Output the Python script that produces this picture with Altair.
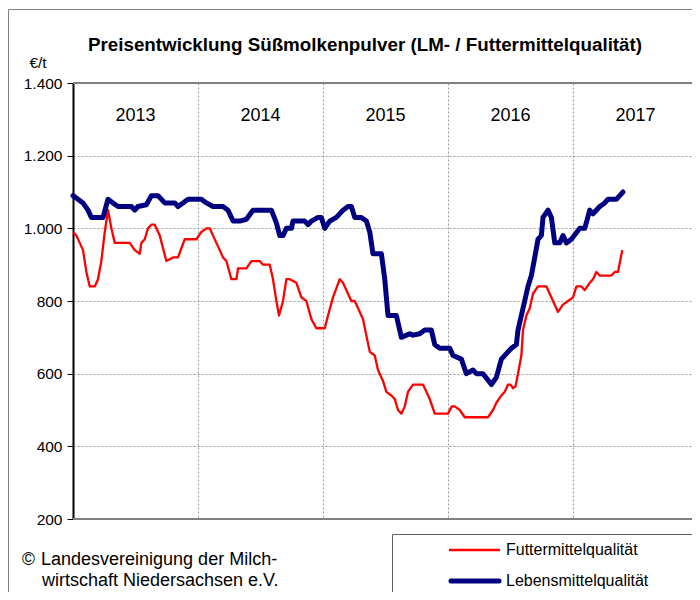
import altair as alt
import pandas as pd

TITLE = "Preisentwicklung Süßmolkenpulver (LM- / Futtermittelqualität)"
UNIT = "€/t"
SERIES = ["Futtermittelqualität", "Lebensmittelqualität"]
YEAR_LABELS = [2013, 2014, 2015, 2016, 2017]
Y_TICKS = [200, 400, 600, 800, 1000, 1200, 1400]
X_GRID = [2013, 2014, 2015, 2016, 2017]
COPYRIGHT = ["©", "Landesvereinigung der Milch-", "wirtschaft Niedersachsen e.V."]

# Lebensmittelqualität (decimal year, €/t)
lm_year = [2013.000, 2013.040, 2013.080, 2013.120, 2013.147, 2013.240, 2013.280, 2013.320, 2013.360, 2013.467,
           2013.494, 2013.520, 2013.587, 2013.627, 2013.680, 2013.734, 2013.814, 2013.840, 2013.880, 2013.920,
           2014.027, 2014.067, 2014.120, 2014.200, 2014.240, 2014.280, 2014.334, 2014.387, 2014.440, 2014.587,
           2014.627, 2014.654, 2014.680, 2014.707, 2014.747, 2014.760, 2014.854, 2014.880, 2014.907, 2014.960,
           2014.987, 2015.014, 2015.054, 2015.107, 2015.160, 2015.200, 2015.227, 2015.254, 2015.307, 2015.347,
           2015.374, 2015.400, 2015.467, 2015.494, 2015.520, 2015.587, 2015.627, 2015.694, 2015.720, 2015.774,
           2015.814, 2015.867, 2015.894, 2015.934, 2016.014, 2016.040, 2016.107, 2016.147, 2016.200, 2016.227,
           2016.280, 2016.347, 2016.387, 2016.427, 2016.480, 2016.507, 2016.547, 2016.560, 2016.600, 2016.640,
           2016.667, 2016.694, 2016.720, 2016.747, 2016.760, 2016.800, 2016.827, 2016.854, 2016.894, 2016.920,
           2016.947, 2016.987, 2017.054, 2017.094, 2017.134, 2017.160, 2017.214, 2017.254, 2017.280, 2017.347,
           2017.374, 2017.400]
lm_value = [1090, 1080, 1070, 1050, 1030, 1030, 1080, 1070, 1060, 1060,
            1050, 1060, 1065, 1090, 1090, 1070, 1070, 1060, 1070, 1080,
            1080, 1070, 1060, 1060, 1050, 1020, 1020, 1025, 1050, 1050,
            1015, 980, 980, 1000, 1000, 1020, 1020, 1010, 1020, 1030,
            1030, 1000, 1020, 1030, 1050, 1060, 1060, 1030, 1030, 1020,
            990, 930, 930, 860, 760, 760, 700, 710, 706, 710,
            720, 720, 680, 670, 670, 650, 640, 600, 610, 600,
            600, 570, 590, 640, 660, 670, 680, 720, 780, 840,
            870, 920, 970, 980, 1030, 1050, 1030, 960, 960, 980,
            960, 970, 1000, 1000, 1050, 1040, 1060, 1070, 1080, 1080,
            1090, 1100]

# Futtermittelqualität (decimal year, €/t)
fm_year = [2013.000, 2013.027, 2013.054, 2013.080, 2013.107, 2013.134, 2013.174, 2013.200, 2013.227, 2013.254,
           2013.280, 2013.307, 2013.334, 2013.454, 2013.494, 2013.534, 2013.547, 2013.574, 2013.600, 2013.627,
           2013.654, 2013.694, 2013.747, 2013.800, 2013.840, 2013.894, 2013.987, 2014.027, 2014.067, 2014.094,
           2014.120, 2014.174, 2014.200, 2014.227, 2014.267, 2014.307, 2014.320, 2014.387, 2014.427, 2014.494,
           2014.520, 2014.574, 2014.600, 2014.627, 2014.648, 2014.680, 2014.707, 2014.734, 2014.787, 2014.827,
           2014.867, 2014.907, 2014.947, 2015.014, 2015.040, 2015.080, 2015.134, 2015.160, 2015.200, 2015.227,
           2015.254, 2015.294, 2015.320, 2015.374, 2015.414, 2015.440, 2015.480, 2015.507, 2015.547, 2015.574,
           2015.600, 2015.627, 2015.654, 2015.680, 2015.720, 2015.800, 2015.827, 2015.854, 2015.894, 2016.000,
           2016.030, 2016.054, 2016.094, 2016.134, 2016.320, 2016.360, 2016.387, 2016.427, 2016.454, 2016.480,
           2016.500, 2016.520, 2016.540, 2016.560, 2016.587, 2016.600, 2016.627, 2016.654, 2016.680, 2016.720,
           2016.787, 2016.814, 2016.840, 2016.880, 2016.920, 2016.960, 2017.000, 2017.027, 2017.067, 2017.094,
           2017.134, 2017.160, 2017.187, 2017.214, 2017.307, 2017.334, 2017.360, 2017.394]
fm_value = [990, 980, 960, 940, 880, 840, 840, 860, 910, 990,
            1050, 1000, 960, 960, 940, 930, 960, 970, 1000, 1010,
            1010, 980, 910, 920, 920, 970, 970, 990, 1000, 1000,
            980, 940, 920, 910, 860, 860, 890, 890, 910, 910,
            900, 900, 860, 800, 760, 800, 860, 860, 850, 810,
            800, 750, 725, 725, 760, 810, 860, 850, 820, 800,
            800, 770, 750, 660, 650, 610, 580, 550, 540, 530,
            500, 490, 510, 550, 570, 570, 550, 530, 490, 490,
            510, 510, 500, 480, 480, 500, 520, 540, 550, 570,
            570, 560, 565, 600, 650, 720, 760, 780, 820, 840,
            840, 820, 800, 770, 790, 800, 810, 840, 840, 830,
            850, 860, 880, 870, 870, 880, 880, 940]

FONT = "Liberation Sans"
YEAR_PX = 125.0            # one year on the x axis
OX, OY = 65, 75            # plot origin inside the svg (page 73, 83)
TOTAL_W, TOTAL_H = 684, 584
W = TOTAL_W - OX           # plot area runs to the right edge of the svg
H = 436
X_END = 2013 + W / YEAR_PX

df_lm = pd.DataFrame({"year": lm_year, "value": lm_value, "series": SERIES[1]})
df_fm = pd.DataFrame({"year": fm_year, "value": fm_value, "series": SERIES[0]})
one = pd.DataFrame({"k": [0]})

xs = alt.Scale(domain=[2013, X_END], nice=False, zero=False)
ys = alt.Scale(domain=[200, 1400], nice=False, zero=False)

grid = alt.Chart(one).mark_point(opacity=0).encode(
    x=alt.X("xg:Q", scale=xs, axis=alt.Axis(values=X_GRID, labels=False, ticks=False, domain=False,
                                             grid=True, gridDash=[2, 2], gridColor="#9a9a9a", gridWidth=1,
                                             title=None)),
    y=alt.Y("yg:Q", scale=ys, axis=alt.Axis(values=Y_TICKS, grid=True, gridDash=[2, 2], gridColor="#9a9a9a",
                                             gridWidth=1, title=None, domain=True, domainColor="black",
                                             domainWidth=2, tickColor="black", tickSize=6, tickWidth=1,
                                             labelFont=FONT, labelFontSize=15.5, labelColor="black",
                                             labelPadding=5,
                                             labelExpr="replace(format(datum.value, ','), ',', '.')")),
).transform_calculate(xg="2013", yg="200")

frame_top_bottom = alt.Chart(pd.DataFrame({"v": [200, 1400]})).mark_rule(color="#808080", strokeWidth=2).encode(
    y=alt.Y("v:Q", scale=ys), x=alt.value(0), x2=alt.value(W)
)

fm_line = alt.Chart(df_fm).mark_line(color="#ff0000", strokeWidth=2.3, strokeJoin="round").encode(
    x=alt.X("year:Q", scale=xs), y=alt.Y("value:Q", scale=ys)
)
lm_line = alt.Chart(df_lm).mark_line(color="#000080", strokeWidth=5, strokeJoin="round", strokeCap="round").encode(
    x=alt.X("year:Q", scale=xs), y=alt.Y("value:Q", scale=ys)
)

year_df = pd.DataFrame({"yr": YEAR_LABELS, "pos": [y + 0.5 for y in YEAR_LABELS], "lbl": [str(y) for y in YEAR_LABELS]})
year_text = alt.Chart(year_df).mark_text(font=FONT, fontSize=18, color="black", baseline="middle").encode(
    x=alt.X("pos:Q", scale=xs), y=alt.value(33), text="lbl:N"
)

def txt(s, x, y, size, align="left", weight="normal"):
    return alt.Chart(one).mark_text(font=FONT, fontSize=size, color="black", align=align,
                                    baseline="middle", fontWeight=weight).encode(
        x=alt.value(x), y=alt.value(y), text=alt.value(s))

outer = alt.Chart(one).mark_rect(fill=None, stroke="#808080", strokeWidth=1).encode(
    x=alt.value(-OX + 0.5), y=alt.value(-OY + 1.5), x2=alt.value(W + 50), y2=alt.value(H + 200)
)
legend_box = alt.Chart(one).mark_rect(fill="white", stroke="#606060", strokeWidth=1).encode(
    x=alt.value(392 - 73 + 0.5), y=alt.value(534 - 83 + 0.5), x2=alt.value(W + 50), y2=alt.value(H + 200)
)
leg_red = alt.Chart(one).mark_rule(color="#ff0000", strokeWidth=2.3).encode(
    x=alt.value(449 - 73), x2=alt.value(500 - 73), y=alt.value(550 - 83)
)
leg_blue = alt.Chart(one).mark_rule(color="#000080", strokeWidth=5, strokeCap="round").encode(
    x=alt.value(451 - 73), x2=alt.value(499 - 73), y=alt.value(581 - 83)
)

layers = [
    outer,
    grid,
    frame_top_bottom,
    fm_line,
    lm_line,
    year_text,
    txt(TITLE, 365 - 73, 45 - 83, 18.8, align="center", weight="bold"),
    txt(UNIT, 38 - 73, 63 - 83, 15.5, align="center"),
    txt(COPYRIGHT[0], 22 - 73, 560 - 83, 17.5),
    txt(COPYRIGHT[1], 41 - 73, 560 - 83, 18),
    txt(COPYRIGHT[2], 42 - 73, 581 - 83, 18),
    legend_box,
    leg_red,
    leg_blue,
    txt(SERIES[0], 506 - 73, 550 - 83, 16),
    txt(SERIES[1], 506 - 73, 581 - 83, 16),
]

chart = alt.layer(*layers).properties(
    width=W, height=H,
    autosize=alt.AutoSizeParams(type="none"),
    padding={"left": OX, "top": OY, "right": 0, "bottom": TOTAL_H - OY - H},
).configure_view(stroke=None).configure(background="white")

chart.save("out.html", embed_options={"renderer": "svg", "actions": False})
